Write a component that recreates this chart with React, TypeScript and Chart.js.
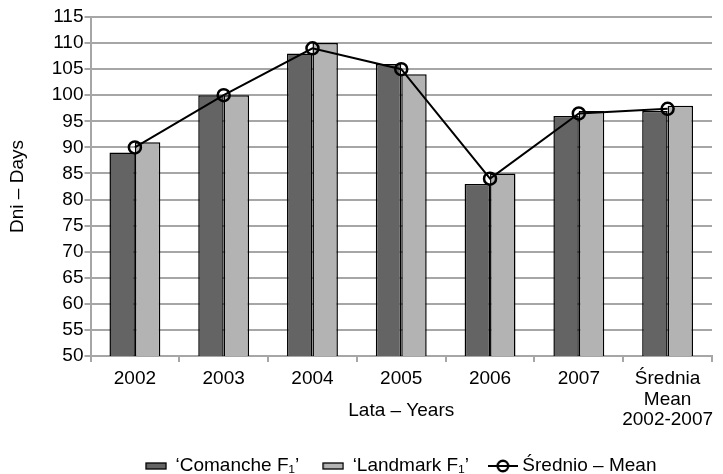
import React, { useEffect, useRef } from 'react';
import { Chart, registerables } from 'chart.js';
Chart.register(...registerables);

const categories: string[][] = [['2002'], ['2003'], ['2004'], ['2005'], ['2006'], ['2007'], ['Średnia', 'Mean', '2002-2007']];
const comanche = [89, 100, 108, 106, 83, 96, 97];
const landmark = [91, 100, 110, 104, 85, 97, 98];
const meanLine = [90, 100, 109, 105, 84, 96.5, 97.4];
const yTicks = { min: 50, max: 115, step: 5 };

const DARK = '#646464';
const LIGHT = '#b3b3b3';
const GRID = '#a6a6a6';
const FONT = '"Liberation Sans", Arial, sans-serif';
const FS = 19;

function rectIcon(fill: string): HTMLCanvasElement {
  const c = document.createElement('canvas');
  c.width = 22; c.height = 10;
  const g = c.getContext('2d')!;
  g.fillStyle = fill;
  g.fillRect(1, 2, 20, 6);
  g.strokeStyle = '#000';
  g.lineWidth = 1.3;
  g.strokeRect(1, 2, 20, 6);
  return c;
}
function lineIcon(): HTMLCanvasElement {
  const c = document.createElement('canvas');
  c.width = 30; c.height = 16;
  const g = c.getContext('2d')!;
  g.strokeStyle = '#000';
  g.lineWidth = 2;
  g.beginPath(); g.moveTo(0, 8); g.lineTo(30, 8); g.stroke();
  g.lineWidth = 2.4;
  g.beginPath(); g.arc(15, 8, 5.3, 0, Math.PI * 2); g.stroke();
  return c;
}

const centerLegendOnPlot = {
  id: 'centerLegendOnPlot',
  afterLayout(chart: any) {
    const lg = chart.legend;
    const ca = chart.chartArea;
    if (!lg || !ca) return;
    const dx = (ca.left + ca.right) / 2 - (lg.left + lg.right) / 2;
    lg.left += dx;
    lg.right += dx;
  },
};

export default function App() {
  const ref = useRef<HTMLCanvasElement>(null);
  useEffect(() => {
    document.body.style.margin = '0';
    const icons = [rectIcon(DARK), rectIcon(LIGHT), lineIcon()];
    const chart = new Chart(ref.current!, {
      type: 'bar',
      data: {
        labels: categories,
        datasets: [
          { type: 'line', label: 'Średnio – Mean', data: meanLine, borderColor: '#000', borderWidth: 2, pointRadius: 6, pointBorderWidth: 2.5, pointBackgroundColor: 'rgba(0,0,0,0)', pointBorderColor: '#000', order: 0 } as any,
          { label: '‘Comanche F₁’', data: comanche, backgroundColor: DARK, borderColor: '#000', borderWidth: 1.5, barPercentage: 1, categoryPercentage: 0.573, order: 1 },
          { label: '‘Landmark F₁’', data: landmark, backgroundColor: LIGHT, borderColor: '#000', borderWidth: 1.5, barPercentage: 1, categoryPercentage: 0.573, order: 1 },
        ],
      },
      plugins: [centerLegendOnPlot],
      options: {
        animation: false,
        responsive: false,
        layout: { padding: { top: 17, right: 11, left: 0, bottom: -11.5 } },
        plugins: {
          tooltip: { enabled: false },
          legend: {
            position: 'bottom',
            labels: {
              usePointStyle: true,
              pointStyleWidth: 20,
              color: '#000',
              font: { family: FONT, size: FS },
              padding: 24,
              generateLabels: (ch: any) => {
                const order = [1, 2, 0];
                return order.map((di, i) => ({
                  text: ch.data.datasets[di].label,
                  datasetIndex: di,
                  pointStyle: icons[i],
                  fillStyle: 'transparent',
                  strokeStyle: 'transparent',
                  lineWidth: 0,
                  hidden: false,
                  fontColor: '#000',
                }));
              },
            },
          },
        },
        scales: {
          x: {
            grid: { display: true, drawOnChartArea: false, drawTicks: true, tickLength: 6, color: GRID, lineWidth: 2, offset: true },
            border: { color: GRID, width: 2 },
            ticks: { color: '#000', font: { family: FONT, size: FS, lineHeight: 1.1 }, maxRotation: 0, autoSkip: false, padding: 6 },
            title: { display: true, text: 'Lata – Years', color: '#000', font: { family: FONT, size: FS }, padding: { top: -37, bottom: 10 } },
          },
          y: {
            min: yTicks.min,
            max: yTicks.max,
            ticks: { stepSize: yTicks.step, autoSkip: false, color: '#000', font: { family: FONT, size: FS }, padding: 1 },
            grid: { color: GRID, lineWidth: 2, tickLength: 6 },
            border: { color: GRID, width: 2 },
            title: { display: true, text: 'Dni – Days', color: '#000', font: { family: FONT, size: FS }, padding: { top: 6, bottom: 22 } },
          },
        },
      },
    });
    return () => chart.destroy();
  }, []);
  return <canvas ref={ref} width={723} height={474} style={{ display: 'block' }} />;
}
